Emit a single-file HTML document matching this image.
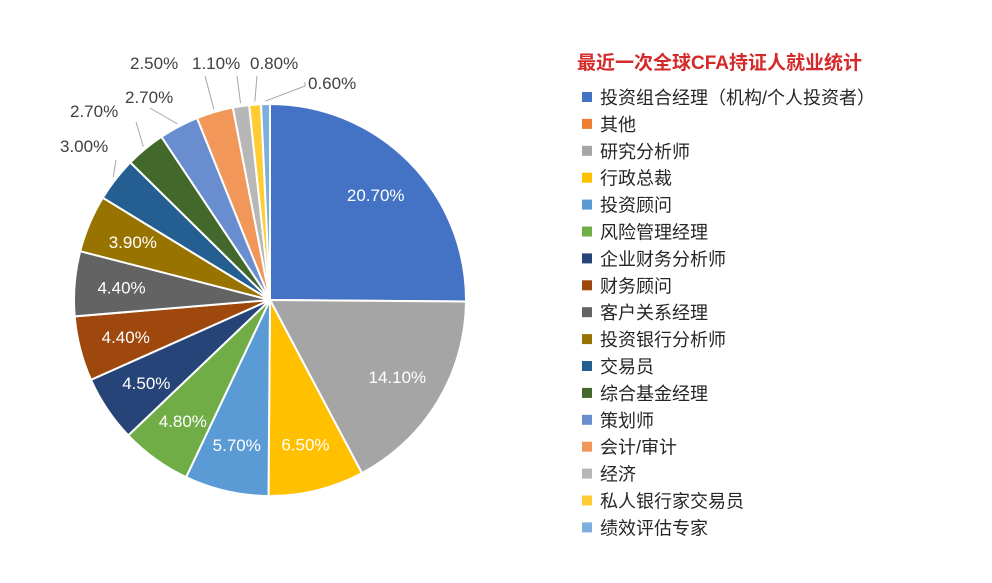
<!DOCTYPE html>
<html><head><meta charset="utf-8">
<style>
body{margin:0;background:#fff;width:992px;height:583px;overflow:hidden;font-family:"Liberation Sans","Noto Sans CJK SC",sans-serif;}
svg{display:block}
</style></head>
<body>
<svg id="chart" width="992" height="583" xmlns="http://www.w3.org/2000/svg">
<g id="pie"></g>
<g id="legend">
<text x="577" y="69" font-size="19" font-weight="bold" fill="#d42a2a" font-family="Liberation Sans, Noto Sans CJK SC, sans-serif">最近一次全球CFA持证人就业统计</text>
</g>
</svg>
<script>
const legendNames=["投资组合经理（机构/个人投资者）","其他","研究分析师","行政总裁","投资顾问","风险管理经理","企业财务分析师","财务顾问","客户关系经理","投资银行分析师","交易员","综合基金经理","策划师","会计/审计","经济","私人银行家交易员","绩效评估专家"];
const legendColors=["#4472C4","#ED7D31","#A5A5A5","#FFC000","#5B9BD5","#70AD47","#264478","#9E480E","#636363","#997300","#255E91","#43682B","#698ED0","#F1975A","#B7B7B7","#FFCD33","#7CAFDD"];
const sliceNames=["投资组合经理","研究分析师","行政总裁","投资顾问","风险管理经理","企业财务分析师","财务顾问","客户关系经理","投资银行分析师","交易员","综合基金经理","策划师","会计/审计","经济","私人银行家交易员","绩效评估专家"];
const sliceValues=[20.7,14.1,6.5,5.7,4.8,4.5,4.4,4.4,3.9,3.0,2.7,2.7,2.5,1.1,0.8,0.6];
const sliceLabels=["20.70%","14.10%","6.50%","5.70%","4.80%","4.50%","4.40%","4.40%","3.90%","3.00%","2.70%","2.70%","2.50%","1.10%","0.80%","0.60%"];
const sliceColors=["#4472C4","#A5A5A5","#FFC000","#5B9BD5","#70AD47","#264478","#9E480E","#636363","#997300","#255E91","#43682B","#698ED0","#F1975A","#B7B7B7","#FFCD33","#7CAFDD"];
// outside label layout: text position and leader-line end point
const outsidePos={9:[60,152,116,160],10:[70,117,136,122],11:[125,103,150,108],12:[130,69,205,76],13:[192,69,237,76],14:[250,69,257,76],15:[308,89,305,86]};

const NS="http://www.w3.org/2000/svg";
const cx=270,cy=300,R=196;
const pie=document.getElementById('pie');
const total=sliceValues.reduce((a,b)=>a+b,0);
function pt(a,r){return [cx+r*Math.sin(a),cy-r*Math.cos(a)];}
let start=0;
sliceValues.forEach((v,i)=>{
  const sweep=v/total*Math.PI*2, end=start+sweep, mid=start+sweep/2;
  const p1=pt(start,R),p2=pt(end,R);
  const path=document.createElementNS(NS,'path');
  path.setAttribute('d',`M${cx},${cy} L${p1[0]},${p1[1]} A${R},${R} 0 ${sweep>Math.PI?1:0} 1 ${p2[0]},${p2[1]} Z`);
  path.setAttribute('fill',sliceColors[i]);
  path.setAttribute('stroke','#fff');
  path.setAttribute('stroke-width','2');
  
  
  pie.appendChild(path);
  const t=document.createElementNS(NS,'text');
  
  
  t.setAttribute('font-size','17');
  t.textContent=sliceLabels[i];
  if(outsidePos[i]){
    const [tx,ty,ex,ey]=outsidePos[i];
    const e=pt(mid,R+3);
    const ln=document.createElementNS(NS,'polyline');
    
    
    if(i===15) ln.setAttribute('points',`${e[0]},${e[1]} ${ex},${ey} ${tx-3},${ey-4}`);
    else ln.setAttribute('points',`${e[0]},${e[1]} ${ex},${ey}`);
    ln.setAttribute('fill','none');ln.setAttribute('stroke','#a6a6a6');ln.setAttribute('stroke-width','1');
    pie.appendChild(ln);
    t.setAttribute('x',tx);t.setAttribute('y',ty);t.setAttribute('fill','#404040');t.setAttribute('text-anchor','start');
  } else {
    const c=pt(mid,R*0.76);
    t.setAttribute('x',c[0]);t.setAttribute('y',c[1]+6);t.setAttribute('fill','#fff');t.setAttribute('text-anchor','middle');
  }
  pie.appendChild(t);
  start=end;
});
const lg=document.getElementById('legend');
legendNames.forEach((n,i)=>{
  const y=97+i*26.9;
  const r=document.createElementNS(NS,'rect');
  r.setAttribute('x',582);r.setAttribute('y',y-5);r.setAttribute('width',10);r.setAttribute('height',10);
  r.setAttribute('fill',legendColors[i]);
  
  
  lg.appendChild(r);
  const t=document.createElementNS(NS,'text');
  t.setAttribute('x',600);t.setAttribute('y',y+7);t.setAttribute('font-size','18');t.setAttribute('fill','#262626');
  t.setAttribute('font-family','Liberation Sans, Noto Sans CJK SC, sans-serif');
  t.textContent=n;
  
  
  lg.appendChild(t);
});
</script>
</body></html>
